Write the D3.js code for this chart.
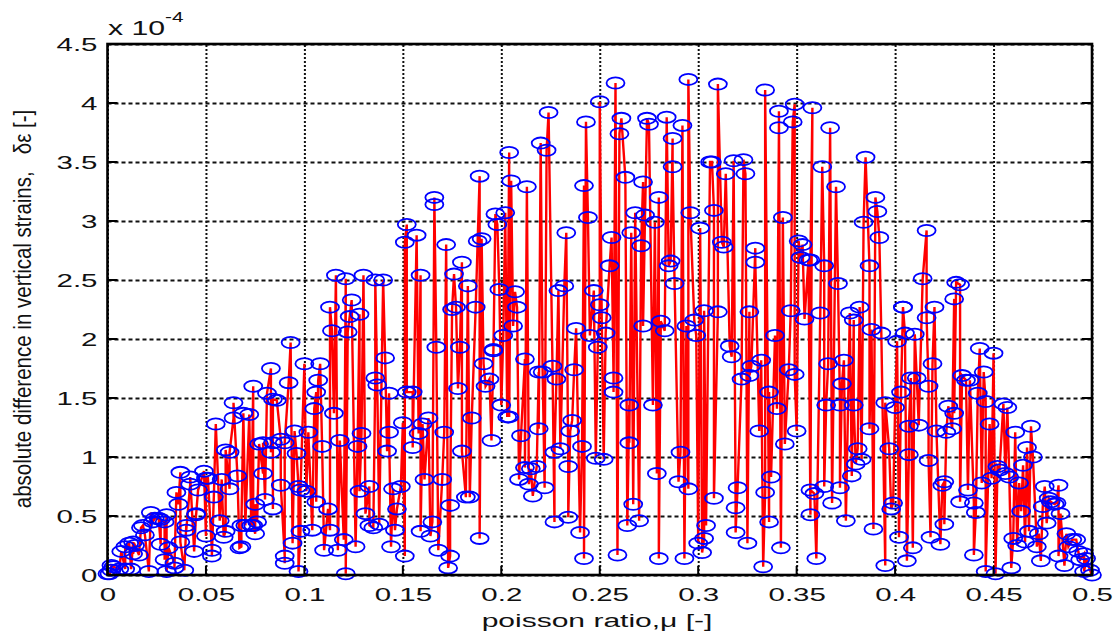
<!DOCTYPE html>
<html>
<head>
<meta charset="utf-8">
<script src="https://cdnjs.cloudflare.com/ajax/libs/d3/7.8.5/d3.min.js"></script>
<style>
    html, body { margin: 0; padding: 0; background: #fff; }
    svg { display: block; }
    text { font-family: "Liberation Sans", Arial, sans-serif; fill: #111; }
</style>
</head>
<body>
<div id="chart"></div>
<script>
// poisson ratio
var poisson = [
    .000,.001,.002,.002,.003,.006,.007,.009,.009,.011,.012,.013,.013,.014,.016,.017,.018,.019,.021,.022,
    .023,.024,.026,.027,.027,.029,.029,.030,.030,.031,.034,.034,.035,.036,.037,.037,.039,.040,.040,.042,
    .042,.044,.045,.045,.046,.049,.050,.050,.051,.053,.053,.054,.055,.057,.058,.059,.060,.060,.062,.062,
    .064,.064,.066,.067,.068,.068,.069,.070,.072,.073,.074,.074,.075,.075,.076,.077,.079,.079,.080,.081,
    .083,.083,.084,.084,.084,.086,.088,.088,.090,.090,.090,.092,.093,.094,.095,.096,.097,.097,.098,.098,
    .100,.101,.102,.104,.105,.106,.106,.107,.108,.109,.110,.112,.113,.113,.114,.115,.116,.117,.118,.120,
    .121,.121,.122,.123,.124,.126,.127,.128,.128,.129,.130,.131,.133,.133,.135,.136,.136,.137,.138,.140,
    .141,.142,.143,.143,.144,.145,.146,.147,.149,.150,.151,.151,.152,.152,.155,.155,.157,.158,.159,.159,
    .160,.161,.163,.164,.165,.166,.166,.167,.168,.170,.171,.172,.173,.174,.174,.175,.176,.177,.178,.179,
    .180,.180,.182,.183,.184,.185,.187,.188,.189,.189,.190,.191,.192,.194,.195,.196,.196,.197,.198,.199,
    .200,.201,.202,.203,.204,.204,.205,.206,.207,.208,.209,.210,.212,.212,.213,.214,.215,.216,.218,.219,
    .219,.220,.221,.222,.223,.224,.226,.227,.227,.228,.229,.230,.232,.233,.234,.234,.235,.236,.237,.238,
    .240,.241,.242,.242,.243,.244,.245,.247,.248,.249,.250,.250,.251,.252,.253,.255,.256,.257,.257,.258,
    .259,.260,.261,.263,.264,.265,.265,.266,.267,.268,.270,.271,.272,.272,.273,.274,.275,.277,.278,.279,
    .280,.280,.281,.283,.284,.285,.286,.287,.287,.288,.290,.291,.292,.293,.294,.295,.295,.296,.298,.299,
    .300,.301,.302,.303,.303,.304,.306,.307,.308,.308,.310,.310,.312,.313,.314,.316,.317,.318,.319,.319,
    .320,.322,.323,.324,.325,.326,.326,.327,.329,.329,.331,.332,.333,.334,.334,.336,.336,.337,.339,.340,
    .341,.341,.342,.343,.344,.346,.347,.348,.349,.349,.350,.351,.352,.353,.354,.356,.357,.357,.358,.357,
    .359,.360,.362,.363,.364,.364,.365,.366,.367,.368,.370,.371,.372,.372,.373,.374,.375,.377,.378,.379,
    .379,.380,.381,.382,.383,.384,.385,.387,.387,.388,.389,.390,.391,.392,.393,.395,.395,.397,.398,.399,
    .400,.401,.402,.403,.404,.404,.405,.406,.407,.407,.408,.409,.410,.411,.412,.414,.416,.416,.417,.417,
    .418,.419,.420,.421,.423,.424,.425,.425,.426,.427,.429,.430,.430,.431,.433,.433,.434,.436,.437,.438,
    .440,.440,.441,.442,.443,.444,.445,.446,.446,.448,.449,.450,.451,.452,.453,.455,.456,.457,.458,.459,
    .460,.461,.462,.463,.464,.465,.466,.467,.468,.469,.470,.472,.473,.474,.475,.476,.477,.478,.479,.481,
    .482,.483,.483,.484,.486,.487,.488,.490,.492,.493,.494,.496,.496,.497,.499,.500
];

// vertical strain difference, in units of 1e-4
var strain = [
    .01,.01,.04,.08,.07,.05,.20,.05,.24,.27,.05,.28,.18,.25,.17,.40,.42,.34,.03,.53,
    .45,.48,.48,.26,.47,.45,.13,.51,.03,.23,.10,.06,.70,.60,.87,.28,.04,.42,.38,.77,
    .83,.20,.52,.51,.72,.88,.33,.82,.82,.21,.16,.66,1.28,.46,.81,.32,.37,1.06,.73,1.04,
    1.33,1.46,.84,.23,.24,.42,1.37,.42,1.36,.42,1.60,.42,.35,.60,.45,1.11,.86,1.12,.64,1.54,
    1.75,1.04,1.12,.56,1.49,1.48,1.15,.76,.16,.10,1.12,1.63,1.97,.27,1.22,1.03,.75,.03,.37,.72,
    1.79,.71,1.21,.38,1.41,1.55,.62,1.65,1.79,1.09,.21,.56,.38,2.27,2.07,1.37,2.54,.21,1.14,.30,
    2.51,.01,2.06,2.19,2.33,.24,1.09,2.21,.71,1.20,2.54,.52,.75,.42,.40,1.67,2.50,1.61,.43,2.50,
    1.84,1.05,1.54,1.21,.24,.73,.38,.56,.75,1.29,.16,2.82,2.97,1.55,1.55,1.08,2.88,1.20,2.54,.37,
    1.28,.81,1.33,.33,.45,3.14,3.20,1.93,.21,.81,1.21,2.80,.06,.16,.59,2.25,2.55,2.27,1.58,1.93,
    2.65,1.05,.66,2.45,.66,1.33,2.27,2.83,3.38,.31,2.85,1.79,1.60,1.66,1.14,1.91,1.90,3.06,2.97,2.42,
    1.44,2.03,3.07,1.34,3.58,1.34,3.34,2.11,2.40,2.27,.81,1.18,1.83,.91,3.29,.77,.90,.67,.92,1.72,
    1.24,3.66,1.72,.74,3.60,3.92,1.77,.45,1.04,1.66,2.41,1.07,2.45,2.90,.92,.49,1.22,1.31,1.74,2.09,
    .36,1.09,3.30,.14,3.84,3.03,2.03,2.41,.99,1.93,2.29,4.01,2.18,.98,2.05,2.62,2.86,1.67,1.55,4.17,
    .17,3.74,3.87,3.37,.42,1.44,1.12,2.90,.60,3.07,.46,2.79,3.33,2.11,3.05,3.87,3.82,1.44,2.99,.86,
    3.20,.14,2.15,2.07,3.88,2.62,2.66,3.70,3.46,2.47,.79,1.04,3.81,.14,2.11,.73,4.20,3.07,2.16,2.03,
    .27,2.94,.19,.31,2.24,.42,3.50,3.50,3.09,.65,2.23,4.16,2.82,2.78,3.40,1.94,1.85,3.51,.57,.36,
    .74,1.66,3.52,3.40,.27,2.23,1.69,1.77,2.77,2.65,1.22,1.82,.07,.70,4.11,.45,1.55,.83,2.03,1.41,
    3.79,3.93,.23,3.03,1.11,1.74,2.24,3.84,3.99,1.70,1.22,2.83,2.69,2.80,2.17,2.67,.51,2.67,3.96,.72,
    .69,.14,2.22,3.46,2.62,.75,1.44,1.79,3.79,.61,3.29,2.47,1.44,.74,1.62,1.82,.46,2.22,.84,2.16,
    1.44,.94,1.07,2.27,.98,2.99,3.54,2.62,1.24,2.08,.39,3.20,3.08,2.86,2.05,.08,1.46,1.07,.56,.61,
    1.42,1.98,.32,1.55,2.27,2.27,2.05,.12,1.02,1.26,1.67,.23,2.04,1.67,1.27,2.51,2.92,2.18,1.60,.97,
    .32,1.79,2.27,1.22,.26,.76,.79,.43,1.21,1.43,1.24,2.34,1.37,2.48,2.46,.62,1.69,1.65,.72,1.65,
    .61,.17,.53,1.54,1.92,.78,1.72,1.47,.03,1.28,.82,1.88,.01,.92,.89,1.45,.86,1.42,.83,.06,
    .31,1.21,.25,.78,.54,.93,.28,1.08,.37,1.26,1.00,.24,.35,.12,.58,.75,.44,.65,.62,.60,
    .61,.76,.16,.52,.08,.35,.24,.30,.30,.20,.13,.18,.03,.14,.04,.00
];

var xTicks = [0, .05, .1, .15, .2, .25, .3, .35, .4, .45, .5];
var yTicks = [0, .5, 1, 1.5, 2, 2.5, 3, 3.5, 4, 4.5];

var width = 1114,
    height = 634,
    margin = {top: 44, right: 22, bottom: 59, left: 107.5},
    plotW = width - margin.left - margin.right,
    plotH = height - margin.top - margin.bottom;

var svg = d3.select("#chart").append("svg")
    .attr("width", width)
    .attr("height", height);

var g = svg.append("g")
    .attr("transform", "translate(" + margin.left + "," + margin.top + ")");

var x = d3.scaleLinear().domain([0, .5]).range([0, plotW]);
var y = d3.scaleLinear().domain([0, 4.5]).range([plotH, 0]);

// dotted grid
var gridX = g.append("g")
    .attr("transform", "translate(0," + plotH + ")")
    .call(d3.axisBottom(x).tickValues(xTicks).tickSize(-plotH).tickFormat(""));
gridX.select(".domain").remove();
gridX.selectAll("line")
    .attr("stroke", "#111")
    .attr("stroke-width", 2)
    .attr("stroke-dasharray", "2,2");

var gridY = g.append("g")
    .call(d3.axisLeft(y).tickValues(yTicks).tickSize(-plotW).tickFormat(""));
gridY.select(".domain").remove();
gridY.selectAll("line")
    .attr("stroke", "#111")
    .attr("stroke-width", 1.8)
    .attr("stroke-dasharray", "4,3");

// the series
var points = poisson.map(function(d, i) { return {x: d, y: strain[i]}; });

var line = d3.line()
    .x(function(d) { return x(d.x); })
    .y(function(d) { return y(d.y); });

g.append("path")
    .datum(points)
    .attr("fill", "none")
    .attr("stroke", "#ff0000")
    .attr("stroke-width", 2.4)
    .attr("d", line);

g.append("g").selectAll("ellipse")
    .data(points)
    .enter().append("ellipse")
    .attr("cx", function(d) { return x(d.x); })
    .attr("cy", function(d) { return y(d.y); })
    .attr("rx", 9)
    .attr("ry", 5.6)
    .attr("fill", "none")
    .attr("stroke", "#0000ff")
    .attr("stroke-width", 1.8);

// frame
g.append("rect")
    .attr("width", plotW)
    .attr("height", plotH)
    .attr("fill", "none")
    .attr("stroke", "#000")
    .attr("stroke-width", 2.6);

// axes with tick marks pointing inwards, labels stretched like the original
var axisBottom = g.append("g")
    .attr("transform", "translate(0," + plotH + ")")
    .call(d3.axisBottom(x).tickValues(xTicks).tickSize(0).tickFormat(function(d) { return d; }));
axisBottom.select(".domain").remove();
axisBottom.selectAll("text")
    .attr("y", 0)
    .attr("dy", 0)
    .attr("font-size", 19)
    .attr("transform", "translate(0,26) scale(1.55,1)");

var axisLeft = g.append("g")
    .call(d3.axisLeft(y).tickValues(yTicks).tickSize(0).tickFormat(function(d) { return d; }));
axisLeft.select(".domain").remove();
axisLeft.selectAll("text")
    .attr("x", 0)
    .attr("dy", 0)
    .attr("font-size", 19)
    .attr("transform", "translate(-10,6.5) scale(1.55,1)");

g.append("g").selectAll("line")
    .data(xTicks)
    .enter().append("line")
    .attr("x1", function(d) { return x(d); })
    .attr("x2", function(d) { return x(d); })
    .attr("y1", plotH)
    .attr("y2", plotH - 9)
    .attr("stroke", "#000")
    .attr("stroke-width", 2);

g.append("g").selectAll("line")
    .data(yTicks)
    .enter().append("line")
    .attr("x1", 0)
    .attr("x2", 10)
    .attr("y1", function(d) { return y(d); })
    .attr("y2", function(d) { return y(d); })
    .attr("stroke", "#000")
    .attr("stroke-width", 2);

g.append("g").selectAll("line")
    .data(yTicks)
    .enter().append("line")
    .attr("x1", plotW)
    .attr("x2", plotW - 10)
    .attr("y1", function(d) { return y(d); })
    .attr("y2", function(d) { return y(d); })
    .attr("stroke", "#000")
    .attr("stroke-width", 2);

// titles
svg.append("text")
    .attr("transform", "translate(597,627) scale(1.58,1)")
    .attr("text-anchor", "middle")
    .attr("font-size", 19)
    .text("poisson ratio,\u03bc [-]");

svg.append("text")
    .attr("transform", "translate(31,309) rotate(-90) scale(1.08,1.3)")
    .attr("text-anchor", "middle")
    .attr("font-size", 19)
    .text("absolute difference in vertical strains,\u00a0\u00a0\u00a0\u03b4\u03b5 [-]");

svg.append("text")
    .attr("transform", "translate(108,35) scale(1.55,1)")
    .attr("font-size", 19.5)
    .text("x 10");

svg.append("text")
    .attr("transform", "translate(165,22) scale(1.48,1)")
    .attr("font-size", 14)
    .text("-4");
</script>
</body>
</html>
